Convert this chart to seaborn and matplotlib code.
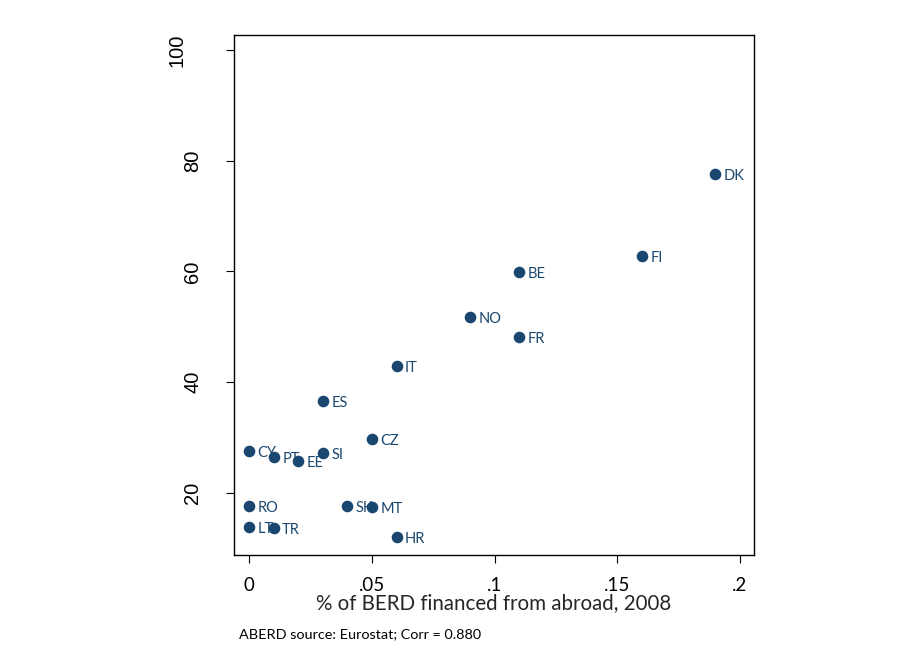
import numpy as np
import pandas as pd
import matplotlib.pyplot as plt
import matplotlib.transforms as mtransforms
import seaborn as sns

# country codes and values
countries = ["DK", "FI", "BE", "NO", "FR", "IT", "ES", "CZ", "CY", "PT",
             "EE", "SI", "RO", "SK", "MT", "LT", "TR", "HR"]
berd_abroad = [0.19, 0.16, 0.11, 0.09, 0.11, 0.06, 0.03, 0.05, 0.00, 0.01,
               0.02, 0.03, 0.00, 0.04, 0.05, 0.00, 0.01, 0.06]
aberd = [77.6, 62.8, 59.9, 51.8, 48.2, 42.9, 36.6, 29.8, 27.6, 26.5,
         25.8, 27.2, 17.7, 17.7, 17.5, 13.9, 13.7, 12.1]

x_ticks = [0, 0.05, 0.1, 0.15, 0.2]
x_tick_labels = ["0", ".05", ".1", ".15", ".2"]
y_ticks = [20, 40, 60, 80, 100]

df = pd.DataFrame({"country": countries, "x": berd_abroad, "y": aberd})

sns.set_style("white")
plt.rcParams["font.family"] = ["Lato", "DejaVu Sans"]
plt.rcParams["text.color"] = "black"

navy = "#1a476f"

fig = plt.figure(figsize=(9.02, 6.64), dpi=100)
ax = fig.add_axes([234 / 902, 1 - 555 / 664, 520 / 902, 520 / 664])

sns.scatterplot(data=df, x="x", y="y", color=navy, s=70, edgecolor=navy,
                linewidth=0, ax=ax, zorder=3)

for _, row in df.iterrows():
    ax.annotate(row["country"], (row["x"], row["y"]), xytext=(6, -1.5),
                textcoords="offset points", color=navy, fontsize=10.5,
                va="center", ha="left")

ax.set_xlim(-0.00624, 0.2057)
ax.set_ylim(8.8, 102.7)
ax.set_xticks(x_ticks)
ax.set_xticklabels(x_tick_labels)
ax.set_yticks(y_ticks)
ax.set_yticklabels([str(v) for v in y_ticks], rotation=90, va="center",
                   family="Liberation Sans")

ax.tick_params(axis="both", direction="out", length=6, width=0.8,
               color="black", labelcolor="black", bottom=True, left=True)
ax.tick_params(axis="x", labelsize=13.5, pad=10)
ax.tick_params(axis="y", labelsize=14.5, pad=17)

# the top label sits a little further left in the original
for lbl in ax.get_yticklabels():
    if lbl.get_text() == "100":
        lbl.set_transform(lbl.get_transform() +
                          mtransforms.ScaledTranslation(-16 / 100, 0, fig.dpi_scale_trans))

for side in ax.spines.values():
    side.set_visible(True)
    side.set_color("black")
    side.set_linewidth(1.0)

ax.set_xlabel("% of BERD financed from abroad, 2008", fontsize=14.8, labelpad=-1)
ax.set_ylabel("")

fig.text(239 / 902, 1 - 634 / 664, "ABERD source: Eurostat; Corr = 0.880",
         fontsize=10.4, va="center", ha="left")

fig.savefig("out.png", dpi=100)
